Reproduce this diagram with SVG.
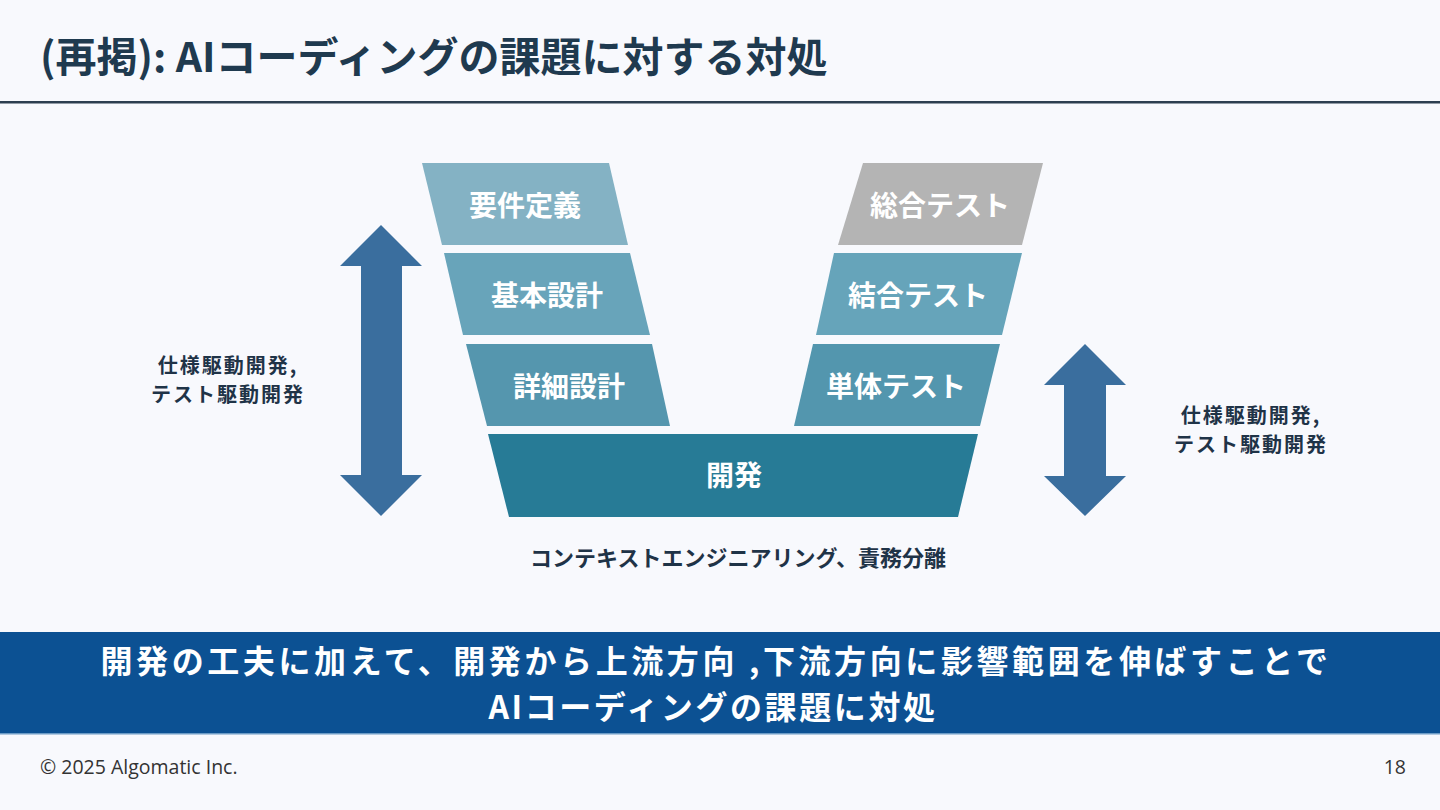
<svg xmlns="http://www.w3.org/2000/svg" width="1440" height="810" viewBox="0 0 1440 810">
<style>
text{font-family:"Noto Sans CJK JP","Noto Sans",sans-serif;font-weight:bold}
.lbl{fill:#ffffff;font-size:28px;text-anchor:middle;dominant-baseline:central}
.side{fill:#1f3347;font-size:20px;text-anchor:middle;letter-spacing:2px}
.bl{fill:#1f3347;font-size:22px;text-anchor:middle}
.arrow{fill:#3a6e9e}
.foot{font-weight:normal;font-family:"Open Sans","Noto Sans",sans-serif;font-size:19.5px;fill:#333333}
.ban{font-size:32px;fill:#ffffff;text-anchor:middle}
</style>
<rect x="0" y="0" width="1440" height="810" fill="#f8f9fd"/>
<g id="title">
<text x="40" y="72" font-size="41" fill="#1f3a4f">(再掲): AIコーディングの課題に対する対処</text>
<rect x="0" y="101" width="1440" height="2.5" fill="#2d3e50"/>
</g>
<g id="youken">
<polygon points="422,163 609,163 628,245 442,245" fill="#84b2c4"/>
<text class="lbl" x="525" y="204">要件定義</text>
</g>
<g id="kihon">
<polygon points="444,253 630,253 650,335 463,335" fill="#68a4ba"/>
<text class="lbl" x="547" y="294">基本設計</text>
</g>
<g id="shousai">
<polygon points="466,344 652,344 670,426 487,426" fill="#5596ae"/>
<text class="lbl" x="569" y="385">詳細設計</text>
</g>
<g id="kaihatsu">
<polygon points="488,434 978,434 958,517 509,517" fill="#277b96"/>
<text class="lbl" x="734" y="474">開発</text>
</g>
<g id="sougou">
<polygon points="863,163 1043,163 1022,245 838,245" fill="#b4b4b4"/>
<text class="lbl" x="940" y="204">総合テスト</text>
</g>
<g id="ketsugou">
<polygon points="834,253 1022,253 1002,335 816,335" fill="#66a4ba"/>
<text class="lbl" x="918" y="294">結合テスト</text>
</g>
<g id="tantai">
<polygon points="813,344 1000,344 980,426 794,426" fill="#5396ae"/>
<text class="lbl" x="896" y="385">単体テスト</text>
</g>
<g id="connectors">
<polygon class="arrow" points="381,225 422,266 402,266 402,475 422,475 381,516 340,475 361,475 361,266 340,266"/>
<polygon class="arrow" points="1085,344 1126,385 1106,385 1106,476 1126,476 1085,516 1044,476 1064,476 1064,385 1044,385"/>
</g>
<g id="left-label">
<text class="side" x="228" y="373">仕様駆動開発,</text>
<text class="side" x="228" y="402">テスト駆動開発</text>
</g>
<g id="right-label">
<text class="side" x="1251" y="423">仕様駆動開発,</text>
<text class="side" x="1251" y="452">テスト駆動開発</text>
</g>
<g id="bottom-label">
<text class="bl" x="738" y="566">コンテキストエンジニアリング、責務分離</text>
</g>
<g id="banner">
<rect x="0" y="632" width="1440" height="102" fill="#0c5193"/>
<rect x="0" y="733" width="1440" height="1.5" fill="#6d9cc6"/>
<text class="ban" x="716" y="673" letter-spacing="3.6">開発の工夫に加えて、開発から上流方向 ,下流方向に影響範囲を伸ばすことで</text>
<text class="ban" x="713" y="719" letter-spacing="2.6">AIコーディングの課題に対処</text>
</g>
<g id="footer">
<text class="foot" x="40" y="774">© 2025 Algomatic Inc.</text>
<text class="foot" x="1406" y="774" text-anchor="end">18</text>
</g>
</svg>
